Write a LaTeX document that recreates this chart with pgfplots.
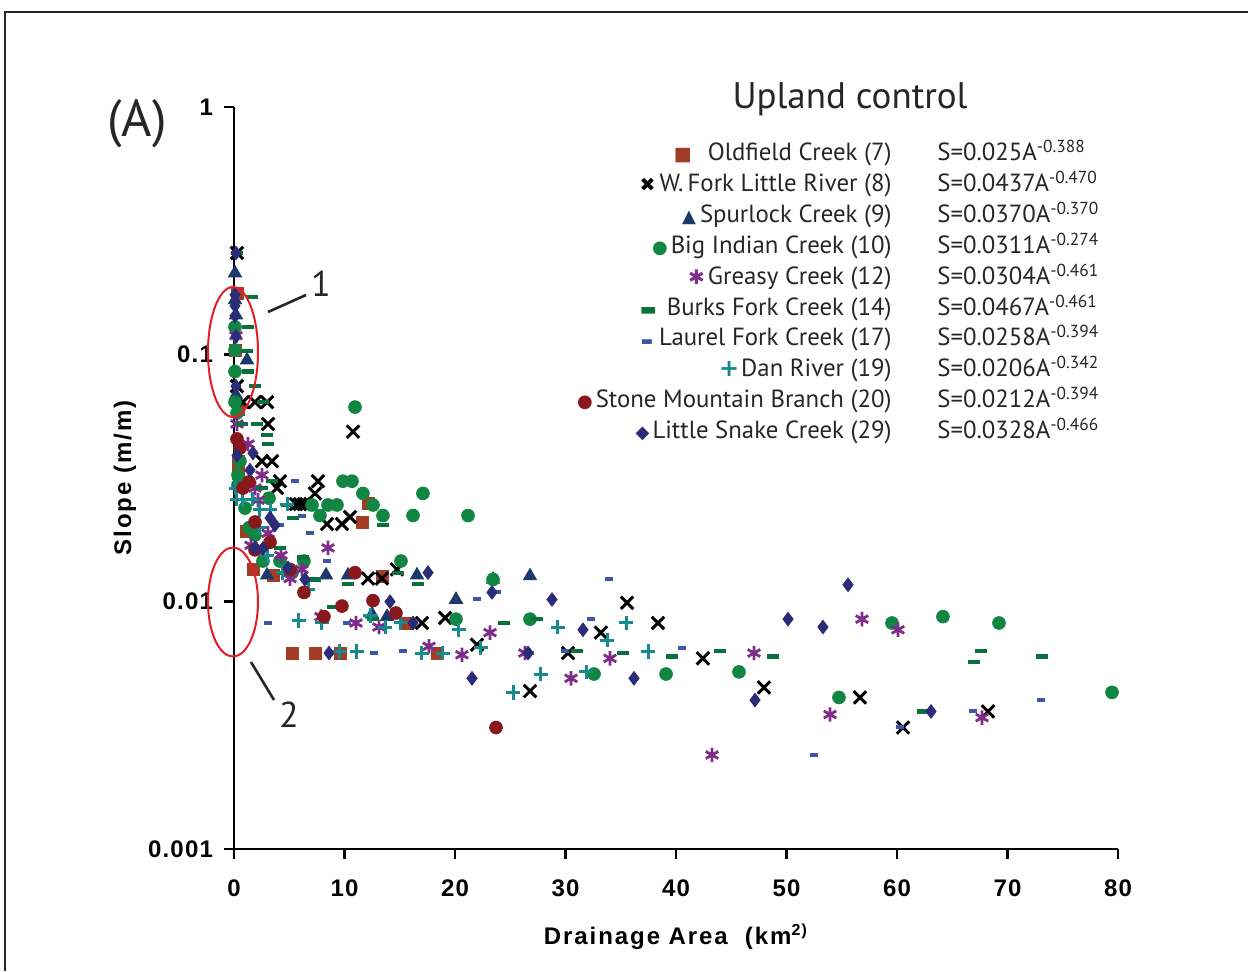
\documentclass[border=0pt]{standalone}
\usepackage{fontspec}
\setmainfont{PT Sans}
\newfontfamily\tickfont[LetterSpace=5]{Liberation Sans}
\newfontfamily\labelfont[LetterSpace=8]{Liberation Sans}
\newfontfamily\symfont{DejaVu Sans}
\usepackage{pgfplots}
\pgfplotsset{compat=1.18}
\usetikzlibrary{plotmarks}
\definecolor{oldfield}{RGB}{163,60,38}
\definecolor{spurlock}{RGB}{29,57,107}
\definecolor{bigindian}{RGB}{17,134,67}
\definecolor{greasy}{RGB}{126,45,137}
\definecolor{burks}{RGB}{10,112,62}
\definecolor{laurel}{RGB}{62,88,168}
\definecolor{dan}{RGB}{22,138,140}
\definecolor{stone}{RGB}{136,24,28}
\definecolor{snake}{RGB}{42,44,120}
\definecolor{ellred}{RGB}{230,30,40}
\begin{document}
\begin{tikzpicture}
\useasboundingbox (0,0) rectangle (624pt,485.5pt);
\draw[line width=1pt, black!85] (2.5pt,0) -- (2.5pt,479.5pt) -- (624pt,479.5pt);
\begin{axis}[
  scale only axis, width=442pt, height=371pt,
  at={(117pt,61pt)}, anchor=south west,
  xmin=0, xmax=80, ymin=0.001, ymax=1, ymode=log,
  axis x line*=bottom, axis y line*=left,
  axis line style={line width=1.4pt},
  every tick/.style={line width=1.4pt, black},
  major tick length=5pt,
  tick align=outside,
  xtick={0,10,20,30,40,50,60,70,80}, xticklabels={0,10,20,30,40,50,60,70,80},
  ytick={0.001,0.01,0.1,1}, yticklabels={0.001,0.01,0.1,1},
  yminorticks=false, xminorticks=false,
  ticklabel style={font=\tickfont\bfseries\fontsize{12}{14}\selectfont},
  xticklabel style={yshift=-7pt},
  yticklabel style={xshift=-2pt},
  clip=false,
  xlabel={Drainage Area\ \ (km\textsuperscript{2)}},
  ylabel={Slope (m/m)},
  every axis x label/.style={at={(axis description cs:0.5,-0.1186)}, anchor=center, font=\labelfont\bfseries\fontsize{12}{14}\selectfont},
  every axis y label/.style={at={(axis description cs:-0.1233,0.5)}, anchor=center, rotate=90, font=\labelfont\bfseries\fontsize{12}{14}\selectfont},
]
% Oldfield Creek
\addplot[only marks, mark=square*, mark size=3pt, color=oldfield] table {
0.27 0.177
0.09 0.104
0.36 0.060
0.36 0.037
0.36 0.033
1.09 0.0192
1.72 0.0135
3.53 0.0128
11.58 0.0210
12.13 0.0250
13.39 0.0127
15.66 0.0082
5.25 0.0062
7.33 0.0062
9.59 0.0062
18.37 0.0062
};
% W. Fork Little River
\addplot[only marks, mark=x, mark size=4.4pt, color=black, mark options={line width=1.5pt}] table {
0.27 0.257
0.27 0.0744
0.81 0.0641
1.90 0.0641
2.99 0.0641
3.08 0.0523
2.53 0.037
3.44 0.037
4.16 0.0307
7.60 0.0307
3.89 0.0288
7.33 0.0274
5.61 0.0248
5.97 0.0248
6.33 0.0248
8.42 0.0206
9.77 0.0206
10.50 0.0220
10.77 0.0487
12.13 0.0124
13.39 0.0124
14.75 0.0135
17.01 0.0082
19.10 0.0086
21.99 0.0067
26.79 0.00435
30.23 0.0062
33.21 0.0075
35.57 0.0099
38.37 0.0082
42.44 0.0059
47.96 0.0045
56.65 0.0041
60.54 0.0031
68.24 0.0036
};
% Spurlock Creek
\addplot[only marks, mark=triangle*, mark size=3.8pt, color=spurlock] table {
0.09 0.213
0.09 0.166
0.18 0.144
1.18 0.0948
0.18 0.0685
2.99 0.0128
8.33 0.0128
10.32 0.0128
16.56 0.0128
23.44 0.0123
26.79 0.0127
20.09 0.0102
12.49 0.0089
13.85 0.0087
};
% Big Indian Creek
\addplot[only marks, mark=*, mark size=3.2pt, color=bigindian] table {
0.09 0.129
0.09 0.104
0.09 0.0852
0.09 0.0641
0.27 0.0579
0.54 0.0370
0.36 0.0325
0.36 0.0296
3.17 0.0262
1.00 0.0239
1.36 0.0199
1.90 0.0186
2.62 0.0146
4.16 0.0146
6.33 0.0146
5.25 0.0131
7.06 0.0246
7.78 0.0223
8.51 0.0246
9.32 0.0246
9.86 0.0307
10.68 0.0307
10.95 0.0612
11.67 0.0274
12.58 0.0246
13.48 0.0223
16.20 0.0223
17.10 0.0274
21.18 0.0223
15.11 0.0146
20.09 0.0085
23.44 0.0123
26.79 0.0085
32.58 0.0051
39.10 0.0051
45.70 0.0052
54.75 0.0041
59.55 0.0082
64.16 0.0087
69.23 0.0082
79.46 0.0043
};
% Greasy Creek
\addplot[only marks, mark=asterisk, mark size=3.6pt, color=greasy, mark options={line width=1.4pt}] table {
0.18 0.119
0.27 0.0523
1.27 0.0434
2.53 0.0325
1.90 0.0288
2.17 0.0257
3.08 0.0189
1.54 0.0169
8.51 0.0165
4.25 0.0154
6.15 0.0135
5.07 0.0124
7.87 0.0087
11.04 0.0082
13.12 0.0079
17.65 0.0066
20.63 0.0061
23.17 0.0075
26.33 0.0062
30.50 0.0049
34.03 0.0059
43.26 0.0024
47.06 0.0062
53.94 0.0035
56.83 0.0085
60.09 0.0077
67.69 0.0034
};
% Burks Fork Creek
\addplot[only marks, mark=-, mark size=3.2pt, color=burks, mark options={line width=2.1pt}] table {
0.27 0.257
1.63 0.171
1.27 0.129
1.18 0.103
1.27 0.0852
1.90 0.0744
2.62 0.0641
0.72 0.0523
2.08 0.0523
2.99 0.0472
3.08 0.0434
3.44 0.0307
2.53 0.0288
4.80 0.0246
5.34 0.0218
4.16 0.0165
6.24 0.0151
4.62 0.0131
7.33 0.0123
10.32 0.0118
13.48 0.0204
8.96 0.0095
12.58 0.0085
14.84 0.0131
16.65 0.0118
24.43 0.0082
27.42 0.0085
31.04 0.0063
35.20 0.0062
39.64 0.0060
43.98 0.0063
48.78 0.0060
62.35 0.0036
66.97 0.0057
67.60 0.0063
73.12 0.0060
};
% Laurel Fork Creek
\addplot[only marks, mark=-, mark size=1.9pt, color=laurel, mark options={line width=2pt}] table {
5.52 0.0307
6.15 0.0223
4.16 0.0204
6.88 0.0189
8.42 0.0146
3.08 0.0082
10.23 0.0082
12.67 0.0062
15.29 0.0063
21.99 0.0103
23.80 0.0109
33.94 0.0124
32.31 0.0085
26.79 0.0062
29.95 0.0063
40.54 0.0065
52.49 0.0024
60.27 0.0031
66.88 0.0036
73.03 0.0040
};
% Dan River
\addplot[only marks, mark=+, mark size=3.6pt, color=dan, mark options={line width=1.5pt}] table {
0.18 0.0288
0.27 0.0260
0.81 0.0260
1.63 0.0260
2.35 0.0235
3.26 0.0235
2.35 0.0199
4.80 0.0248
2.99 0.0154
4.43 0.0131
6.70 0.0112
5.88 0.0084
7.96 0.0082
9.59 0.0063
11.13 0.0063
12.31 0.0088
13.67 0.0079
15.11 0.0082
17.01 0.0062
18.91 0.0062
20.36 0.0077
22.35 0.0065
25.25 0.0043
27.78 0.0051
29.32 0.0079
31.86 0.0052
33.76 0.0070
35.48 0.0082
37.47 0.0063
};
% Stone Mountain Branch
\addplot[only marks, mark=*, mark size=3.2pt, color=stone] table {
0.27 0.0455
0.54 0.0418
1.36 0.0305
0.81 0.0288
1.90 0.0210
3.26 0.0174
1.90 0.0162
5.07 0.0135
6.33 0.0109
10.95 0.0131
9.77 0.0096
12.58 0.0101
8.14 0.0087
14.66 0.0090
23.71 0.0031
};
% Little Snake Creek
\addplot[only marks, mark=diamond*, mark size=3.4pt, color=snake] table {
0.18 0.257
0.09 0.174
0.09 0.157
0.09 0.143
0.18 0.118
0.18 0.0744
0.27 0.039
1.72 0.0399
1.45 0.0340
3.26 0.0218
3.71 0.0204
1.90 0.0165
2.62 0.0164
4.89 0.0137
6.43 0.0123
8.60 0.0062
14.12 0.0100
17.56 0.0131
16.20 0.0082
23.35 0.0109
28.78 0.0102
31.58 0.0077
21.54 0.0049
36.20 0.0049
47.15 0.0040
55.57 0.0117
50.14 0.0085
53.30 0.0079
63.08 0.0036
26.61 0.0062
};
\end{axis}
% annotations
\draw[ellred, line width=1pt] (116.5pt,309.5pt) ellipse [x radius=12.5pt, y radius=32.5pt];
\draw[ellred, line width=1pt] (116.5pt,184.5pt) ellipse [x radius=12.5pt, y radius=27.25pt];
\draw[black!85, line width=1.3pt] (134pt,329.5pt) -- (153pt,338pt);
\draw[black!85, line width=1.3pt] (125.5pt,154.5pt) -- (137pt,135.5pt);
\node[font=\fontsize{18}{20}\selectfont, text=black!85] at (160.5pt,343.5pt) {1};
\node[font=\fontsize{18}{20}\selectfont, text=black!85] at (144.5pt,128pt) {2};
\node[font=\fontsize{26}{30}\selectfont, text=black!85] at (68.5pt,423.5pt) {(A)};
\node[font=\fontsize{18.5}{22}\selectfont, text=black!85] at (425pt,436pt) {Upland control};
% legend
\begin{scope}[yshift=-2pt, every node/.style={inner sep=0pt, font=\fontsize{12.4}{14}\selectfont, text=black!85}]
\node[anchor=mid east] at (446pt,409.5pt) {{\symfont\color{oldfield}\fontsize{9.5}{10}\selectfont ■}\hspace{8pt}Oldfield Creek (7)};
\node[anchor=mid east] at (446pt,394pt) {{\symfont\color{black}\fontsize{9.5}{10}\selectfont ✖}\hspace{2pt}W.\,Fork Little River (8)};
\node[anchor=mid east] at (446pt,378.5pt) {{\symfont\color{spurlock}\fontsize{9}{10}\selectfont ▲}\hspace{2pt}Spurlock Creek (9)};
\node[anchor=mid east] at (446pt,363pt) {{\symfont\color{bigindian}\fontsize{9}{10}\selectfont ●}\hspace{1.5pt}Big Indian Creek (10)};
\node[anchor=mid east] at (446pt,347.5pt) {{\symfont\color{greasy}\fontsize{10}{10}\selectfont ✱}\hspace{1.5pt}Greasy Creek (12)};
\node[anchor=mid east] at (446pt,332pt) {{\symfont\color{burks}\fontsize{9}{10}\selectfont ▬}\hspace{5pt}Burks Fork Creek (14)};
\node[anchor=mid east] at (446pt,317pt) {{\symfont\color{laurel}\fontsize{6.5}{10}\selectfont ▬}\hspace{3pt}Laurel Fork Creek (17)};
\node[anchor=mid east] at (446pt,301.5pt) {{\symfont\color{dan}\bfseries\fontsize{12}{10}\selectfont +}\hspace{1pt}Dan River (19)};
\node[anchor=mid east] at (446pt,286pt) {{\symfont\color{stone}\fontsize{9}{10}\selectfont ●}\hspace{1.5pt}Stone Mountain Branch (20)};
\node[anchor=mid east] at (446pt,270.5pt) {{\symfont\color{snake}\fontsize{9}{10}\selectfont ◆}\hspace{1.5pt}Little Snake Creek (29)};
\node[anchor=mid west] at (468.5pt,409.5pt) {S=0.025A\textsuperscript{-0.388}};
\node[anchor=mid west] at (468.5pt,394pt) {S=0.0437A\textsuperscript{-0.470}};
\node[anchor=mid west] at (468.5pt,378.5pt) {S=0.0370A\textsuperscript{-0.370}};
\node[anchor=mid west] at (468.5pt,363pt) {S=0.0311A\textsuperscript{-0.274}};
\node[anchor=mid west] at (468.5pt,347.5pt) {S=0.0304A\textsuperscript{-0.461}};
\node[anchor=mid west] at (468.5pt,332pt) {S=0.0467A\textsuperscript{-0.461}};
\node[anchor=mid west] at (468.5pt,317pt) {S=0.0258A\textsuperscript{-0.394}};
\node[anchor=mid west] at (468.5pt,301.5pt) {S=0.0206A\textsuperscript{-0.342}};
\node[anchor=mid west] at (468.5pt,286pt) {S=0.0212A\textsuperscript{-0.394}};
\node[anchor=mid west] at (468.5pt,270.5pt) {S=0.0328A\textsuperscript{-0.466}};
\end{scope}
\end{tikzpicture}
\end{document}
